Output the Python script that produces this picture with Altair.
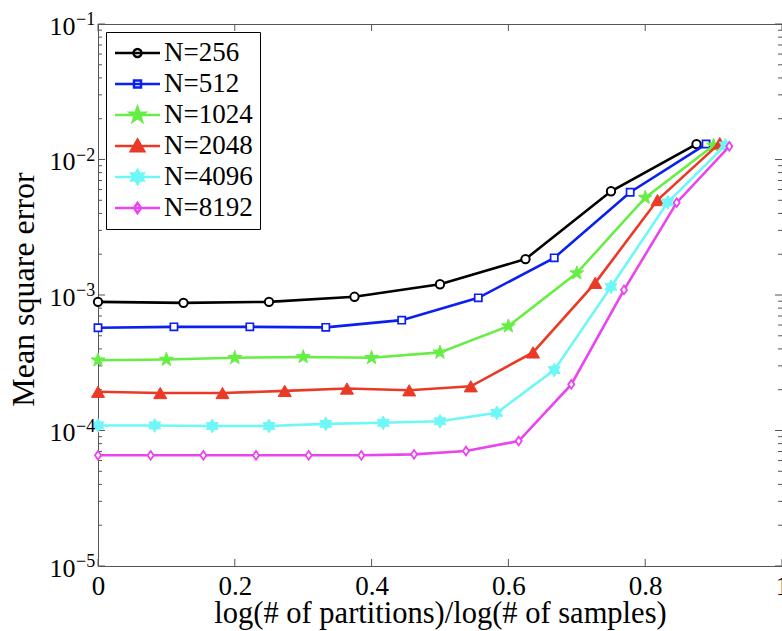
import math
import altair as alt
import pandas as pd

# ---------------- data ----------------
series = ["N=256", "N=512", "N=1024", "N=2048", "N=4096", "N=8192"]

x_256 = [0, 0.125, 0.25, 0.375, 0.5, 0.625, 0.75, 0.875]
y_256 = [8.9e-4, 8.75e-4, 8.9e-4, 9.7e-4, 1.20e-3, 1.84e-3, 5.83e-3, 1.30e-2]

x_512 = [0, 0.111, 0.222, 0.333, 0.444, 0.556, 0.667, 0.778, 0.889]
y_512 = [5.73e-4, 5.82e-4, 5.82e-4, 5.77e-4, 6.52e-4, 9.53e-4, 1.88e-3, 5.73e-3, 1.30e-2]

x_1024 = [0, 0.1, 0.2, 0.3, 0.4, 0.5, 0.6, 0.7, 0.8, 0.9]
y_1024 = [3.30e-4, 3.34e-4, 3.44e-4, 3.49e-4, 3.44e-4, 3.77e-4, 5.89e-4, 1.45e-3, 5.23e-3, 1.27e-2]

x_2048 = [0, 0.091, 0.182, 0.273, 0.364, 0.455, 0.545, 0.636, 0.727, 0.818, 0.909]
y_2048 = [1.93e-4, 1.89e-4, 1.89e-4, 1.96e-4, 2.04e-4, 1.98e-4, 2.12e-4, 3.77e-4, 1.23e-3, 5.02e-3, 1.32e-2]

x_4096 = [0, 0.083, 0.167, 0.25, 0.333, 0.417, 0.5, 0.583, 0.667, 0.75, 0.833, 0.917]
y_4096 = [1.09e-4, 1.09e-4, 1.08e-4, 1.08e-4, 1.12e-4, 1.14e-4, 1.17e-4, 1.35e-4, 2.79e-4, 1.15e-3, 4.83e-3, 1.27e-2]

x_8192 = [0, 0.077, 0.154, 0.231, 0.308, 0.385, 0.462, 0.538, 0.615, 0.692, 0.769, 0.846, 0.923]
y_8192 = [6.56e-5, 6.56e-5, 6.56e-5, 6.56e-5, 6.56e-5, 6.56e-5, 6.67e-5, 7.06e-5, 8.36e-5, 2.19e-4, 1.09e-3, 4.80e-3, 1.25e-2]

x_ticks = [0, 0.2, 0.4, 0.6, 0.8, 1.0]
y_major = [1e-5, 1e-4, 1e-3, 1e-2, 1e-1]
y_exponents = ["\u22125", "\u22124", "\u22123", "\u22122", "\u22121"]
y_minor = [2e-5, 3e-5, 4e-5, 5e-5, 6e-5, 7e-5, 8e-5, 9e-5,
           2e-4, 3e-4, 4e-4, 5e-4, 6e-4, 7e-4, 8e-4, 9e-4,
           2e-3, 3e-3, 4e-3, 5e-3, 6e-3, 7e-3, 8e-3, 9e-3,
           2e-2, 3e-2, 4e-2, 5e-2, 6e-2, 7e-2, 8e-2, 9e-2]

colors = ["#000000", "#0a1ff0", "#66ee44", "#ea3a26", "#6ef7f7", "#e944ef"]

xs_all = [x_256, x_512, x_1024, x_2048, x_4096, x_8192]
ys_all = [y_256, y_512, y_1024, y_2048, y_4096, y_8192]

rows = []
for name, xv, yv in zip(series, xs_all, ys_all):
    for a, b in zip(xv, yv):
        rows.append({"series": name, "x": a, "y": b})
df = pd.DataFrame(rows)

# ---------------- style ----------------
W, H = 684, 542
FONT = "Liberation Serif"
AXC = "#555555"


def star_pts(n, r_out, r_in, cx=0.0, cy=0.0, s=1.0):
    pts = []
    for k in range(2 * n):
        ang = math.radians(-90 + k * 180.0 / n)
        r = (r_out if k % 2 == 0 else r_in) * s
        pts.append((cx + r * math.cos(ang), cy + r * math.sin(ang)))
    return "M" + "L".join(f"{p[0]:.3f},{p[1]:.3f}" for p in pts) + "Z"


def poly(pts, cx=0.0, cy=0.0, s=1.0):
    return "M" + "L".join(f"{cx + a * s:.3f},{cy + b * s:.3f}" for a, b in pts) + "Z"


PENTA = star_pts(5, 1.0, 0.40)
HEXA = star_pts(6, 1.0, 0.56)
DIAM = poly([(0, -1), (0.7, 0), (0, 1), (-0.7, 0)])
TRI = [(0, -1), (1, 0.75), (-1, 0.75)]

# marker spec per series: shape, size, filled, strokeWidth
markers = [
    ("circle", 70, False, 2.0),
    ("square", 52, False, 1.7),
    (PENTA, 210, True, 1.0),
    ("triangle-up", 169, True, 1.0),
    (HEXA, 190, True, 1.0),
    (DIAM, 76, False, 1.8),
]

# legend symbols: a line with the marker on it (unit = sqrt(size)/2 px)
LS = 196
u = math.sqrt(LS) / 2
L0, L1, CX = -11.5 / u, 33.5 / u, 11.0 / u
line = f"M{L0:.3f},0H{L1:.3f}"


def circ(cx, r):
    return f"M{cx - r:.3f},0A{r:.3f},{r:.3f} 0 1,0 {cx + r:.3f},0A{r:.3f},{r:.3f} 0 1,0 {cx - r:.3f},0Z"


def filled(fn):
    return "".join(fn(s) for s in (1.0, 0.7, 0.4, 0.12))


legend_paths = [
    line + circ(CX, 0.57),
    line + poly([(-1, -1), (1, -1), (1, 1), (-1, 1)], CX, 0, 0.5),
    line + filled(lambda s: star_pts(5, 1.0, 0.40, CX, 0, s * 1.1)),
    line + filled(lambda s: poly(TRI, CX, 0.05, s * 0.95)),
    line + filled(lambda s: star_pts(6, 1.0, 0.56, CX, 0, s * 1.0)),
    line + poly([(0, -1), (0.7, 0), (0, 1), (-0.7, 0)], CX, 0, 0.72),
]

xsc = alt.Scale(domain=[0, 1], nice=False, zero=False)
ysc = alt.Scale(type="log", domain=[1e-5, 1e-1], nice=False)

x_axis = alt.Axis(
    values=x_ticks, format="~g", ticks=False, domain=False, grid=False,
    labelFont=FONT, labelFontSize=27, labelColor="black", labelBaseline="alphabetic",
    labelPadding=28, labelFlush=False, labelOverlap=False,
    title="log(# of partitions)/log(# of samples)", titleFont=FONT, titleFontSize=30.5,
    titleFontWeight="normal", titleColor="black", titleBaseline="alphabetic", titleY=56,
)
y_axis = alt.Axis(
    values=y_major, labelExpr="'10'", ticks=False, domain=False, grid=False,
    labelFont=FONT, labelFontSize=26, labelColor="black", labelAlign="right",
    labelBaseline="alphabetic", labelOffset=10, labelPadding=23, labelOverlap=False,
    labelFlush=False,
    title="Mean square error", titleFont=FONT, titleFontSize=32, titleFontWeight="normal",
    titleColor="black", titleBaseline="alphabetic", titleAlign="center",
    titleAngle=270, titleX=-65, titleY=265,
)


def X(field):
    return alt.X(field, scale=xsc, axis=x_axis)


def Y(field):
    return alt.Y(field, scale=ysc, axis=y_axis)


layers = []

# tick marks (inside the frame)
xt = pd.DataFrame({"v": x_ticks})
ymj = pd.DataFrame({"v": y_major})
ymn = pd.DataFrame({"v": y_minor})
rule = dict(color=AXC, strokeWidth=1)
layers.append(alt.Chart(xt).mark_rule(**rule).encode(x=X("v:Q"), y=alt.value(H), y2=alt.value(H - 7)))
layers.append(alt.Chart(xt).mark_rule(**rule).encode(x=X("v:Q"), y=alt.value(0), y2=alt.value(7)))
for data, ln in ((ymj, 7), (ymn, 4)):
    layers.append(alt.Chart(data).mark_rule(**rule).encode(y=Y("v:Q"), x=alt.value(0), x2=alt.value(ln)))
    layers.append(alt.Chart(data).mark_rule(**rule).encode(y=Y("v:Q"), x=alt.value(W), x2=alt.value(W - ln)))

# series: line then markers, in drawing order
for name, c, (shp, sz, fil, sw) in zip(series, colors, markers):
    base = alt.Chart(df).transform_filter(alt.datum.series == name)
    layers.append(base.mark_line(color=c, strokeWidth=2.6).encode(x=X("x:Q"), y=Y("y:Q")))
    pkw = dict(shape=shp, size=sz, filled=fil, opacity=1, strokeWidth=sw)
    if fil:
        pkw.update(fill=c, stroke=c)
    else:
        pkw.update(stroke=c, fill="white")
    layers.append(base.mark_point(**pkw).encode(x=X("x:Q"), y=Y("y:Q")))

# superscript exponents of the y tick labels
exp_df = pd.DataFrame({"v": y_major, "t": y_exponents})
layers.append(alt.Chart(exp_df).mark_text(
    font=FONT, fontSize=18, align="left", baseline="alphabetic", dy=1, color="black"
).encode(y=Y("v:Q"), x=alt.value(-22), text="t:N"))

# invisible layer that carries the legend
leg = alt.Legend(
    title=None, orient="none", legendX=8, legendY=8, labelFont=FONT, labelFontSize=27,
    labelColor="black", symbolSize=LS, symbolStrokeWidth=2.5, symbolOpacity=1,
    symbolFillColor="transparent", padding=7, strokeColor="#000000", fillColor="white",
    rowPadding=3, clipHeight=28, labelOffset=24, labelLimit=300,
)
layers.append(alt.Chart(df).mark_point(opacity=0, size=LS, filled=False, strokeWidth=2.5).encode(
    x=X("x:Q"), y=Y("y:Q"),
    color=alt.Color("series:N", scale=alt.Scale(domain=series, range=colors), legend=leg),
    shape=alt.Shape("series:N", scale=alt.Scale(domain=series, range=legend_paths), legend=leg),
))

chart = alt.layer(*layers).properties(
    width=W, height=H,
    autosize=alt.AutoSizeParams(type="none"),
    padding={"left": 98, "top": 24, "right": 0, "bottom": 65},
    background="white",
).configure_view(stroke=AXC, strokeWidth=1)

chart.save("out.html", embed_options={"renderer": "svg", "actions": False})
